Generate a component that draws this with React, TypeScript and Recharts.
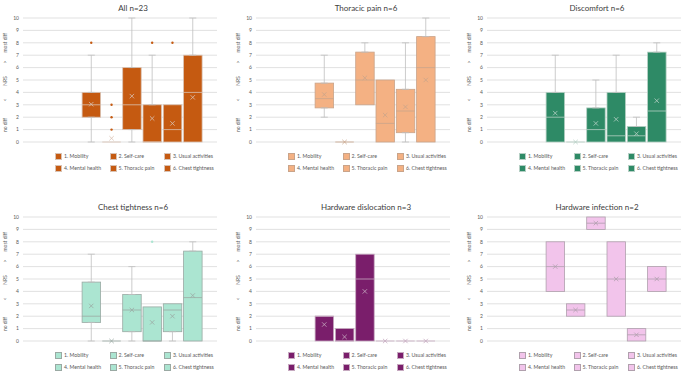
import React from 'react'
import { ComposedChart, Bar, Scatter, ErrorBar, XAxis, YAxis, CartesianGrid, Legend } from 'recharts'

const categories = [
  '1. Mobility',
  '2. Self-care',
  '3. Usual activities',
  '4. Mental health',
  '5. Thoracic pain',
  '6. Chest tightness',
]
const nrsTicks = [0, 1, 2, 3, 4, 5, 6, 7, 8, 9, 10]

// each row: [min, q1, median, q3, max]
const allStats = [
  [0, 2, 3, 4, 7],
  [0, 0, 0, 0, 0],
  [0, 1, 3, 6, 10],
  [0, 0, 0, 3, 7],
  [0, 0, 1, 3, 3],
  [0, 0, 4, 7, 10],
]
const allMeans = [3.05, 0.3, 3.7, 1.9, 1.5, 3.6]
const allOutliers = [[8], [1, 2, 3], [], [8], [8], []]

const thoracicStats = [
  [2, 2.75, 3.5, 4.75, 7],
  [0, 0, 0, 0, 0],
  [3, 3, 5, 7.25, 8],
  [0, 0, 1.5, 5, 5],
  [0, 0.75, 2.5, 4.25, 8],
  [0, 0, 6, 8.5, 10],
]
const thoracicMeans = [3.83, 0, 5.17, 2.17, 2.83, 5]
const thoracicOutliers = [[], [], [], [], [], []]

const discomfortStats = [
  [0, 0, 2, 4, 7],
  [0, 0, 0, 0, 0],
  [0, 0, 1, 2.75, 5],
  [0, 0, 0.5, 4, 7],
  [0, 0, 0.5, 1.25, 2],
  [0, 0, 2.5, 7.25, 8],
]
const discomfortMeans = [2.33, 0, 1.5, 1.83, 0.67, 3.33]
const discomfortOutliers = [[], [], [], [], [], []]

const chestStats = [
  [0, 1.5, 2, 4.75, 7],
  [0, 0, 0, 0, 0],
  [0, 0.75, 2.5, 3.75, 6],
  [0, 0, 0, 2.75, 2.75],
  [0, 0.75, 2.5, 3, 3],
  [0, 0, 3.5, 7.25, 8],
]
const chestMeans = [2.83, 0, 2.5, 1.5, 2, 3.67]
const chestOutliers = [[], [], [], [8], [], []]

const dislocationStats = [
  [0, 0, 2, 2, 2],
  [0, 0, 0, 1, 1],
  [0, 0, 5, 7, 7],
  [0, 0, 0, 0, 0],
  [0, 0, 0, 0, 0],
  [0, 0, 0, 0, 0],
]
const dislocationMeans = [1.33, 0.33, 4, 0, 0, 0]
const dislocationOutliers = [[], [], [], [], [], []]

const infectionStats = [
  [4, 4, 6, 8, 8],
  [2, 2, 2.5, 3, 3],
  [9, 9, 9.5, 10, 10],
  [2, 2, 5, 8, 8],
  [0, 0, 0.5, 1, 1],
  [4, 4, 5, 6, 6],
]
const infectionMeans = [6, 2.5, 9.5, 5, 0.5, 5]
const infectionOutliers = [[], [], [], [], [], []]

const CHART_W = 221
const CHART_H = 175
const BOX_W = 18.5

function buildRows(stats: number[][], means: number[]) {
  return categories.map((name, i) => {
    const [min, q1, med, q3, max] = stats[i]
    return {
      name,
      box: [q1, q3],
      q1,
      q3,
      med,
      mean: means[i],
      lowErr: q1 > min ? [q1 - min, 0] : null,
      highErr: max > q3 ? [0, max - q3] : null,
    }
  })
}

function buildOutliers(outliers: number[][]) {
  return outliers.flatMap((vals, i) => vals.map((v) => ({ name: categories[i], v })))
}

const Blank = () => <g />

const AxisTitle = (props: any) => {
  const { x, y, height } = props.viewBox
  const parts: [string, number][] = [
    ['most diff', 0.2],
    ['>', 0.355],
    ['NRS', 0.508],
    ['<', 0.661],
    ['no diff', 0.863],
  ]
  return (
    <g>
      {parts.map(([t, f]) => {
        const tx = x + 5
        const ty = y + f * height
        return (
          <text
            key={t}
            x={tx}
            y={ty}
            transform={`rotate(-90 ${tx} ${ty})`}
            textAnchor="middle"
            dominantBaseline="central"
            fontSize={5}
            fill="#595959"
          >
            {t}
          </text>
        )
      })}
    </g>
  )
}

function BoxLegend({ color, edge }: { color: string; edge: string }) {
  return (
    <div style={{ position: 'relative', height: 33 }}>
      {categories.map((c, i) => (
        <div
          key={c}
          style={{
            position: 'absolute',
            left: 55 + (i % 3) * 54.5,
            top: 8 + Math.floor(i / 3) * 12,
            height: 12,
            display: 'flex',
            alignItems: 'center',
            fontSize: 5.2,
            color: '#595959',
            whiteSpace: 'nowrap',
          }}
        >
          <span
            style={{
              display: 'inline-block',
              width: 5,
              height: 5,
              background: color,
              border: `0.5px solid ${edge}`,
              marginRight: 2,
            }}
          />
          {c}
        </div>
      ))}
    </div>
  )
}

interface PanelProps {
  title: string
  stats: number[][]
  means: number[]
  outliers: number[][]
  color: string
  edge: string
  left: number
  top: number
}

function BoxPanel({ title, stats, means, outliers, color, edge, left, top }: PanelProps) {
  const rows = buildRows(stats, means)
  const outlierRows = buildOutliers(outliers)
  const whisker = '#bfbfbf'

  const BoxShape = (p: any) => {
    const h = Math.abs(p.height || 0)
    const y = p.height < 0 ? p.y + p.height : p.y
    return <rect x={p.x} y={y} width={p.width} height={h} fill={color} stroke={edge} strokeWidth={0.8} />
  }
  const MedianShape = (p: any) => (
    <line x1={p.cx - BOX_W / 2} x2={p.cx + BOX_W / 2} y1={p.cy} y2={p.cy} stroke={edge} strokeWidth={0.8} />
  )
  const MeanShape = (p: any) => (
    <g stroke={edge} strokeWidth={0.8}>
      <line x1={p.cx - 2.2} y1={p.cy - 2.2} x2={p.cx + 2.2} y2={p.cy + 2.2} />
      <line x1={p.cx - 2.2} y1={p.cy + 2.2} x2={p.cx + 2.2} y2={p.cy - 2.2} />
    </g>
  )
  const OutlierShape = (p: any) => <circle cx={p.cx} cy={p.cy} r={1.2} fill={color} />

  return (
    <div style={{ position: 'absolute', left, top, width: CHART_W, height: CHART_H }}>
      <div
        style={{
          position: 'absolute',
          left: 0,
          top: 2,
          width: 266,
          textAlign: 'center',
          fontSize: 8,
          lineHeight: '12px',
          color: '#404040',
          whiteSpace: 'nowrap',
        }}
      >
        {title}
      </div>
      <ComposedChart width={CHART_W} height={CHART_H} data={rows} margin={{ top: 18, right: 4, left: 0, bottom: 0 }}>
        <CartesianGrid vertical={false} stroke="#d9d9d9" strokeWidth={0.8} />
        <XAxis
          dataKey="name"
          type="category"
          allowDuplicatedCategory={false}
          hide
          padding={{ left: 58.1, right: 14.1 }}
        />
        <YAxis
          width={23}
          domain={[0, 10]}
          ticks={nrsTicks}
          interval={0}
          axisLine={false}
          tickLine={false}
          tickSize={0}
          tickMargin={4}
          tick={{ fontSize: 5, fill: '#595959' }}
          label={AxisTitle}
        />
        <Legend
          verticalAlign="bottom"
          height={33}
          wrapperStyle={{ left: 0, width: CHART_W }}
          content={() => <BoxLegend color={color} edge={edge} />}
        />
        <Bar dataKey="box" barSize={BOX_W} shape={BoxShape} isAnimationActive={false} />
        <Scatter dataKey="q1" shape={Blank} isAnimationActive={false}>
          <ErrorBar dataKey="lowErr" direction="y" width={3.5} stroke={whisker} strokeWidth={0.8} />
        </Scatter>
        <Scatter dataKey="q3" shape={Blank} isAnimationActive={false}>
          <ErrorBar dataKey="highErr" direction="y" width={3.5} stroke={whisker} strokeWidth={0.8} />
        </Scatter>
        <Scatter dataKey="med" shape={MedianShape} isAnimationActive={false} />
        <Scatter dataKey="mean" shape={MeanShape} isAnimationActive={false} />
        {outlierRows.length > 0 && (
          <Scatter data={outlierRows} dataKey="v" shape={OutlierShape} isAnimationActive={false} />
        )}
      </ComposedChart>
    </div>
  )
}

export default function App() {
  return (
    <div
      style={{
        position: 'absolute',
        left: 0,
        top: 0,
        width: 685,
        height: 374,
        background: '#fff',
        fontFamily: 'Lato, "Open Sans", sans-serif',
        overflow: 'hidden',
      }}
    >
      <BoxPanel title="All n=23" stats={allStats} means={allMeans} outliers={allOutliers}
        color="#c55a11" edge="#d9c2b3" left={0} top={0} />
      <BoxPanel title="Thoracic pain n=6" stats={thoracicStats} means={thoracicMeans} outliers={thoracicOutliers}
        color="#f4b183" edge="#c9a48a" left={233} top={0} />
      <BoxPanel title="Discomfort n=6" stats={discomfortStats} means={discomfortMeans} outliers={discomfortOutliers}
        color="#2e8a66" edge="#b5cfc4" left={464} top={0} />
      <BoxPanel title="Chest tightness n=6" stats={chestStats} means={chestMeans} outliers={chestOutliers}
        color="#abe5d1" edge="#9aa9a3" left={0} top={199} />
      <BoxPanel title="Hardware dislocation n=3" stats={dislocationStats} means={dislocationMeans} outliers={dislocationOutliers}
        color="#7a1e6b" edge="#c6a9c0" left={233} top={199} />
      <BoxPanel title="Hardware infection n=2" stats={infectionStats} means={infectionMeans} outliers={infectionOutliers}
        color="#f2c4eb" edge="#b0a0ad" left={464} top={199} />
    </div>
  )
}
